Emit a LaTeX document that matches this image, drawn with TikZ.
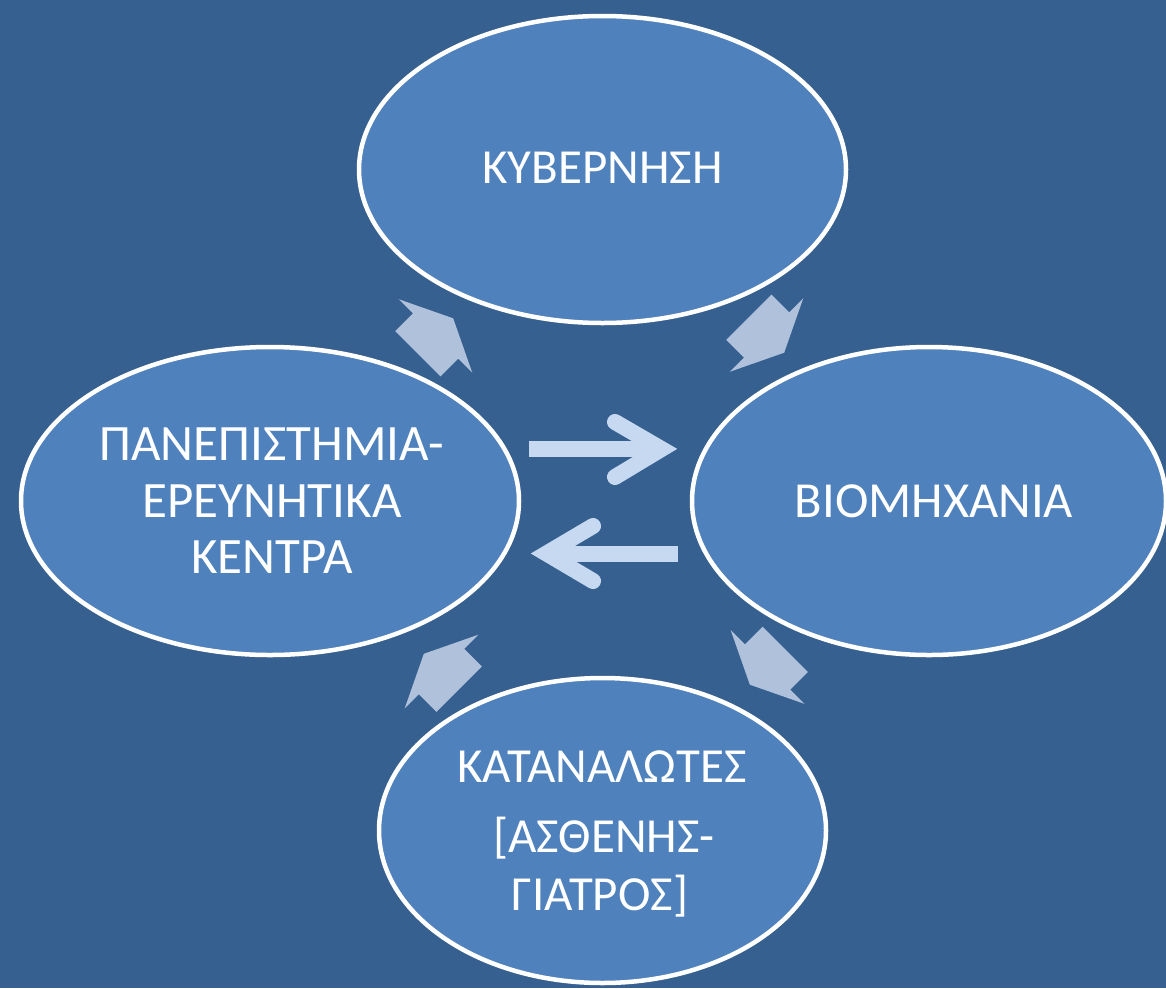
\documentclass[tikz,border=0pt]{standalone}
\usepackage{fontspec}
\setmainfont{Carlito}
\usetikzlibrary{shapes.geometric}
\definecolor{bgcol}{HTML}{36608F}
\definecolor{ellcol}{HTML}{4F81BD}
\definecolor{barrowcol}{HTML}{B0C1DC}
\definecolor{larrowcol}{HTML}{C6D9F1}
\begin{document}
\begin{tikzpicture}[x=1pt,y=-1pt,
  blob/.style={ellipse, draw=white, line width=4.5pt, fill=ellcol, inner sep=0pt, outer sep=0pt},
  lbl/.style={text=white, anchor=base, inner sep=0pt, font=\fontsize{49}{58}\selectfont},
  lblbig/.style={lbl, font=\fontsize{50.5}{58}\selectfont},
  lblwide/.style={lbl, font=\fontsize{51}{56}\selectfont},
  larrow/.style={draw=larrowcol, line width=16pt},
  blockarrow/.pic={\fill[barrowcol] (-25,-32) -- (0,-32) -- (0,-52) -- (25,0) -- (0,52) -- (0,32) -- (-25,32) -- cycle;}]
\fill[bgcol] (0,0) rectangle (1166,988);
\useasboundingbox (0,0) rectangle (1166,988);

% ellipses
\node[blob, minimum width=487pt, minimum height=307pt] (gov) at (602.5,169.5) {};
\node[blob, minimum width=498pt, minimum height=308pt] (uni) at (270,501) {};
\node[blob, minimum width=474pt, minimum height=308pt] (ind) at (929,501) {};
\node[blob, minimum width=447pt, minimum height=305pt] (con) at (602.5,830.5) {};

% texts
\node[lbl] (govt) at (602.5,183) {ΚΥΒΕΡΝΗΣΗ};
\node[lblwide] (uni1) at (272,460) {ΠΑΝΕΠΙΣΤΗΜΙΑ-};
\node[lblwide] (uni2) at (272,517) {ΕΡΕΥΝΗΤΙΚΑ};
\node[lblwide] (uni3) at (272,573) {ΚΕΝΤΡΑ};
\node[lblbig] (indt) at (934,517) {ΒΙΟΜΗΧΑΝΙΑ};
\node[lbl] (con1) at (602,782) {ΚΑΤΑΝΑΛΩΤΕΣ};
\node[lbl] (con2) at (604,852.5) {[ΑΣΘΕΝΗΣ-};
\node[lbl] (con3) at (600,910) {ΓΙΑΤΡΟΣ]};

% block arrows of the cycle
\pic[rotate=45] (ba1) at (435.5,336) {blockarrow};
\pic[rotate=-45] (ba2) at (766.5,335) {blockarrow};
\pic[rotate=-135] (ba3) at (767.5,667) {blockarrow};
\pic[rotate=135] (ba4) at (441.5,671.5) {blockarrow};

% line arrows between university and industry
\coordinate (r0) at (529,448.5);
\coordinate (r1) at (656,448.5);
\coordinate (rtip) at (661.5,449);
\coordinate (rb1) at (615,422);
\coordinate (rb2) at (615,477);
\draw[larrow, line cap=butt] (r0) -- (r1);
\draw[larrow, line cap=round, line join=miter] (rb1) -- (rtip) -- (rb2);

\coordinate (l0) at (678,554);
\coordinate (l1) at (552,554);
\coordinate (ltip) at (546.5,553.5);
\coordinate (lb1) at (593,526);
\coordinate (lb2) at (593,581);
\draw[larrow, line cap=butt] (l0) -- (l1);
\draw[larrow, line cap=round, line join=miter] (lb1) -- (ltip) -- (lb2);
\end{tikzpicture}
\end{document}
